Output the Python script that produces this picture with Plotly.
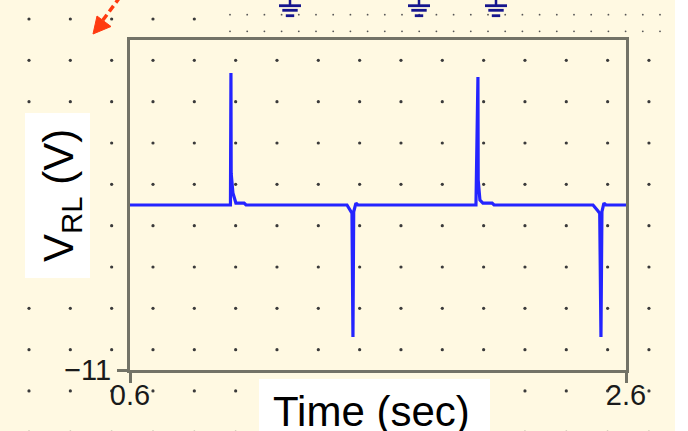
import numpy as np
import plotly.graph_objects as go

# ---- data ----
time_s = [0.6, 1.005, 1.007, 1.008, 1.015, 1.027, 1.06, 1.068,
          1.475, 1.491, 1.495, 1.499, 1.502, 1.511, 1.519,
          1.995, 2.003, 2.004, 2.011, 2.023, 2.06, 2.068,
          2.467, 2.487, 2.494, 2.499, 2.503, 2.511, 2.519, 2.6]
v_rl = [0, 0, 8.8, 2.1, 0.8, 0.13, 0.13, 0,
        0, -0.4, -0.55, -8.8, -0.45, 0.13, 0,
        0, 8.53, 1.67, 0.33, 0.13, 0.13, 0,
        0, -0.4, -0.55, -8.8, -0.45, 0.13, 0, 0]
x_tick_vals = [0.6, 2.6]
x_tick_text = ["0.6", "2.6"]
y_tick_vals = [-11]
y_tick_text = ["\u221211"]
y_range = [-11, 11]
x_title = "Time (sec)"
y_title = "V<sub>RL</sub> (V)"

# ---- styling / geometry ----
W, H = 688, 431
CREAM = "#FFF9E2"
AXIS_C = "#737367"
BLUE = "#2424FF"
NAVY = "#16168e"
FONT = "Liberation Sans, Arial, sans-serif"
PL, PR, PT, PB = 130, 626, 40, 370  # plot box in pixels

fig = go.Figure()

# background dot pattern (pixel subplot)
gx = 29 + 41.33 * np.arange(16)
gy = 19 + 41.33 * np.arange(11)
dx, dy = [], []
for yy in gy:
    for xx in gx:
        if yy < 40 and xx > 215:
            continue
        dx.append(xx)
        dy.append(yy)
fig.add_trace(go.Scatter(x=dx, y=dy, mode="markers", xaxis="x", yaxis="y",
                         marker=dict(size=3.2, color="#3a3a3a"),
                         hoverinfo="skip", showlegend=False))
sx = 230 + 17.2 * np.arange(26)
sdx, sdy = [], []
for yy in (14.7, 31.3):
    for xx in sx:
        sdx.append(xx)
        sdy.append(yy)
fig.add_trace(go.Scatter(x=sdx, y=sdy, mode="markers", xaxis="x", yaxis="y",
                         marker=dict(size=1.8, color="#555555"),
                         hoverinfo="skip", showlegend=False))

# the signal
fig.add_trace(go.Scatter(x=time_s, y=v_rl, mode="lines", xaxis="x2", yaxis="y2",
                         line=dict(color=BLUE, width=3.2),
                         hoverinfo="skip", showlegend=False))

shapes = []
# white strip at right edge
shapes.append(dict(type="rect", xref="x", yref="y", x0=675, x1=690, y0=-2, y1=433,
                   fillcolor="white", line=dict(width=0), layer="above"))
# white label boxes
shapes.append(dict(type="rect", xref="x", yref="y", x0=25, x1=90, y0=113, y1=278,
                   fillcolor="white", line=dict(width=0), layer="above"))
shapes.append(dict(type="rect", xref="x", yref="y", x0=259, x1=490, y0=379, y1=433,
                   fillcolor="white", line=dict(width=0), layer="above"))
# ground symbols
for cx in (290, 419, 496):
    shapes.append(dict(type="line", xref="x", yref="y", x0=cx, x1=cx, y0=-2, y1=5.7,
                       line=dict(color=NAVY, width=2.5)))
    for yy, hw in ((5.7, 11), (10.3, 7.7), (15.7, 4.2)):
        shapes.append(dict(type="line", xref="x", yref="y", x0=cx - hw, x1=cx + hw,
                           y0=yy, y1=yy, line=dict(color=NAVY, width=2.8)))
# orange dashed arrow
shapes.append(dict(type="line", xref="x", yref="y", x0=120, y0=-3, x1=100, y1=24,
                   line=dict(color="#ff3a10", width=3.5, dash="7px,4px")))
shapes.append(dict(type="path", xref="x", yref="y",
                   path="M 93,34 L 111,26.5 L 97,16 Z",
                   fillcolor="#ff3a10", line=dict(color="#ff3a10", width=1)))

annotations = [
    dict(xref="x", yref="y", x=61, y=196, text=y_title, textangle=-90,
         showarrow=False, xanchor="center", yanchor="middle",
         font=dict(family=FONT, size=42, color="black")),
    dict(xref="x", yref="y", x=371, y=411, text=x_title,
         showarrow=False, xanchor="center", yanchor="middle",
         font=dict(family=FONT, size=42, color="black")),
]

fig.update_layout(
    width=W, height=H, autosize=False,
    margin=dict(l=0, r=0, t=0, b=0, pad=0, autoexpand=False),
    paper_bgcolor=CREAM, plot_bgcolor="rgba(0,0,0,0)",
    showlegend=False,
    shapes=shapes, annotations=annotations,
    xaxis=dict(domain=[0, 1], range=[0, W], visible=False, fixedrange=True,
               automargin=False),
    yaxis=dict(domain=[0, 1], range=[H, 0], visible=False, fixedrange=True,
               automargin=False),
    xaxis2=dict(domain=[PL / W, PR / W], range=[x_tick_vals[0], x_tick_vals[-1]],
                anchor="y2", showline=True, mirror=True, linecolor=AXIS_C, linewidth=3,
                showgrid=False, zeroline=False, automargin=False,
                tickmode="array", tickvals=x_tick_vals, ticktext=x_tick_text,
                ticks="outside", ticklen=10, tickwidth=3, tickcolor=AXIS_C,
                ticklabelstandoff=-13,
                tickfont=dict(family=FONT, size=29, color="#1a1a1a")),
    yaxis2=dict(domain=[1 - PB / H, 1 - PT / H], range=y_range,
                anchor="x2", showline=True, mirror=True, linecolor=AXIS_C, linewidth=3,
                showgrid=False, zeroline=False, automargin=False,
                tickmode="array", tickvals=y_tick_vals, ticktext=y_tick_text,
                ticks="outside", ticklen=10, tickwidth=3, tickcolor=AXIS_C,
                tickfont=dict(family=FONT, size=29, color="#1a1a1a")),
)

fig.write_html("out.html", config={"displayModeBar": False},
               post_script="document.body.style.margin='0';document.body.style.overflow='hidden';")
